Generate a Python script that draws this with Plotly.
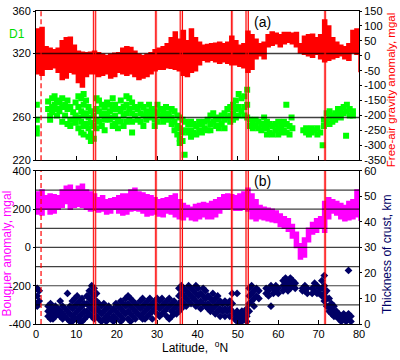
import plotly.graph_objects as go

# ---------------- data ----------------
lat_grid = list(range(0, 81))

freeair_upper = [90, 95, 30, 25, 20, 25, 50, 60, 62, 35,
                 15, 12, 10, 12, 15, 10, 5, 0, 5, 8,
                 10, 25, 30, 28, 15, 5, 0, 5, 10, 20,
                 25, 30, 40, 60, 80, 55, 85, 50, 90, 60,
                 45, 35, 38, 40, 42, 45, 40, 45, 65, 50,
                 35, 40, 82, 70, 55, 40, 45, 70, 80, 75,
                 70, 78, 78, 75, 78, 40, 65, 70, 72, 60,
                 70, 120, 100, 60, 45, 35, 30, 40, 85, 90, 80]
freeair_lower = [-60, -65, -45, -45, -40, -55, -80, -75, -55, -60,
                 -90, -105, -70, -60, -60, -70, -65, -60, -75, -70,
                 -55, -60, -65, -60, -70, -80, -75, -70, -60, -50,
                 -45, -45, -40, -42, -45, -50, -65, -70, -55, -50,
                 -30, -15, -20, -15, -20, -25, -20, -25, -30, -30,
                 -35, -40, -55, -45, -10, 0, -10, 30, 35, 40,
                 30, 40, 45, 40, 30, 10, 5, 0, -5, 5,
                 -10, -20, -15, -10, -5, 0, -10, -15, 10, 5, -55]

bouguer_upper = [290, 300, 270, 280, 275, 270, 300, 320, 325, 300,
                 320, 330, 300, 290, 280, 260, 270, 250, 255, 260,
                 270, 280, 280, 300, 310, 290, 285, 275, 270, 260,
                 250, 255, 260, 270, 280, 250, 230, 220, 210, 225,
                 230, 235, 230, 240, 250, 260, 275, 280, 275, 270,
                 280, 290, 310, 280, 250, 220, 210, 205, 200, 190,
                 175, 160, 150, 120, 80, 20, 50, 100, 130, 150,
                 160, 240, 260, 250, 240, 230, 220, 240, 250, 300, 300]
bouguer_lower = [175, 170, 200, 175, 180, 200, 210, 230, 200, 210,
                 215, 210, 200, 190, 195, 185, 190, 175, 180, 200,
                 180, 170, 175, 190, 195, 190, 180, 165, 170, 175,
                 165, 160, 180, 175, 160, 150, 145, 160, 145, 140,
                 150, 160, 150, 150, 160, 180, 200, 200, 205, 195,
                 195, 200, 190, 150, 140, 150, 145, 140, 135, 130,
                 110, 100, 85, 50, 0, -60, -50, 30, 70, 80,
                 100, 80, 150, 180, 170, 150, 140, 145, 150, 160, 140]

d1_columns = [
    (0.2, [272, 258, 250, 245]), (3.0, [275, 268]), (3.5, [262, 258]),
    (4.0, [278, 270, 265]), (4.6, [280, 272]), (5.2, [276, 268, 262]),
    (5.8, [274, 266]), (6.5, [278, 270, 256]), (7.2, [272, 262]),
    (7.8, [276, 268, 254]), (8.5, [270, 258, 252]), (9.2, [265, 258]),
    (9.8, [274, 262, 255]), (10.5, [280, 270, 260, 250]),
    (11.2, [278, 266, 256, 246]), (11.8, [282, 272, 262, 252, 244]),
    (12.4, [276, 264, 254]), (13.0, [270, 260, 250, 242]),
    (13.6, [266, 255, 245, 238]), (14.3, [262, 252, 240]),
    (15.0, [278, 268, 258, 250]), (15.6, [276, 266, 256]),
    (16.3, [272, 262, 252]), (17.0, [270, 264, 258, 248]),
    (17.6, [274, 262]), (18.3, [272, 266, 258]), (19.0, [278, 268, 260, 252]),
    (19.6, [272, 262, 254]), (20.3, [268, 258, 250]), (21.0, [276, 266, 256]),
    (21.7, [270, 262, 252]), (22.4, [280, 272, 264, 256]),
    (23.1, [278, 268, 258]), (23.8, [274, 264, 256, 246]),
    (24.5, [270, 262]), (25.2, [268, 258]), (25.9, [272, 264, 256]),
    (26.6, [270, 262, 252]), (27.3, [266, 258]), (28.0, [272, 264, 260]),
    (28.7, [268, 262]), (29.4, [266, 258, 252]), (30.1, [272, 264, 256]),
    (30.8, [268, 262]), (31.5, [266, 260, 256]), (32.2, [270, 262]),
    (32.9, [264, 258]), (33.6, [268, 260, 254]), (34.3, [266, 256, 248]),
    (35.0, [262, 252, 244]), (35.6, [260, 250, 240, 236]),
    (36.3, [258, 246, 238]), (36.8, [225]), (37.0, [256, 248]),
    (37.7, [254, 246]), (38.4, [256, 248, 242]), (39.0, [254, 246]),
    (39.7, [252, 244]), (40.4, [256, 248]), (41.1, [254, 246]),
    (41.8, [256, 250]), (42.5, [258, 248]), (43.2, [262, 254, 248]),
    (43.9, [264, 256]), (44.6, [260, 252]), (45.3, [258, 250]),
    (46.0, [262, 254]), (46.7, [264, 258, 250]), (47.4, [268, 260]),
    (48.1, [270, 262, 256]), (48.8, [272, 264, 258]),
    (49.5, [276, 268, 260]), (50.2, [282, 270, 262]), (50.9, [278, 266]),
    (51.6, [280, 270, 262]), (52.3, [286, 272, 260]), (53.0, [258, 252]),
    (53.7, [256, 250]), (54.4, [258, 252]), (55.1, [256, 250]),
    (55.8, [254, 248]), (56.5, [260, 252]), (57.2, [256, 250, 244]),
    (57.9, [254, 246]), (58.6, [252, 244]), (59.3, [254, 248]),
    (60.0, [256, 250, 244]), (60.7, [252, 246]), (61.4, [256, 248]),
    (62.0, [272]), (62.1, [254, 246]), (62.8, [252, 244]), (63.3, [260]),
    (63.5, [250]), (66.2, [248]), (66.9, [250, 246]), (67.6, [248, 244]),
    (68.3, [250, 246]), (69.0, [248]), (69.7, [250, 244]), (70.4, [246]),
    (71.0, [234]), (71.3, [258, 252]), (72.0, [264, 256]),
    (72.7, [266, 260, 254]), (73.4, [262, 256]), (74.1, [264, 258]),
    (74.8, [268, 262]), (75.5, [266, 260]), (76.2, [270, 264]),
    (76.8, [243]), (77.0, [272, 266]), (77.7, [268, 262]), (78.5, [266, 262]),
]

crust_columns = [
    (0.3, [14, 11, 8, 7]), (0.8, [13, 9]), (3.0, [7, 5, 3]), (3.6, [8, 6, 4, 2]),
    (4.2, [6, 4, 2]), (4.8, [7, 5, 3]), (5.4, [6, 4]), (6.0, [9, 5, 3]),
    (6.6, [7, 4, 2]), (7.2, [6, 3]), (7.8, [12, 5, 2]), (8.4, [7, 4, 1]),
    (9.0, [9, 6, 3, 1]), (9.6, [10, 7, 4, 2]), (10.2, [11, 8, 5, 2]),
    (10.8, [9, 6, 3, 1]), (11.4, [10, 7, 4, 1]), (12.0, [8, 5, 2]),
    (12.6, [11, 8, 5, 3]), (13.2, [13, 10, 7, 4]), (13.8, [15, 12, 9, 6, 3]),
    (14.4, [14, 11, 8, 5, 2]), (15.0, [12, 9, 6, 3]), (15.6, [8, 5, 2]),
    (16.2, [7, 4, 1]), (16.8, [8, 5, 2]), (17.4, [6, 3, 1]), (18.0, [7, 4, 2]),
    (18.6, [5, 2]), (19.2, [6, 3, 1]), (19.8, [8, 5, 2]), (20.4, [7, 4]),
    (21.0, [9, 6, 3, 1]), (21.6, [8, 5, 2]), (22.2, [10, 7, 4]),
    (22.8, [11, 8, 5, 2]), (23.4, [10, 7, 4, 1]), (24.0, [9, 6, 3]),
    (24.6, [8, 5, 2]), (25.2, [7, 4]), (25.8, [9, 6, 3]), (26.4, [10, 7, 4, 2]),
    (27.0, [8, 5, 2]), (27.6, [9, 6, 3]), (28.2, [10, 7, 4]), (28.8, [8, 5, 2]),
    (29.4, [9, 6]), (30.0, [10, 7, 4]), (30.6, [9, 6, 3]), (31.2, [10, 7, 4]),
    (31.8, [8, 5]), (32.4, [9, 6, 3]), (33.0, [10, 7, 2]), (33.6, [8, 5, 3]),
    (34.2, [9, 6, 4]), (34.8, [7, 4]), (35.4, [14, 11, 8, 5]),
    (36.0, [15, 12, 9, 6]), (36.6, [14, 11, 8]), (37.2, [13, 10, 7]),
    (37.8, [15, 12, 9]), (38.4, [14, 11, 8]), (39.0, [13, 10]),
    (39.6, [15, 12, 9, 7]), (40.2, [14, 11, 8]), (40.8, [12, 9, 6]),
    (41.4, [14, 11, 8]), (42.0, [13, 10, 7]), (42.6, [11, 8, 6]),
    (43.2, [10, 7, 5]), (43.8, [12, 9, 6]), (44.4, [10, 7, 4]),
    (45.0, [11, 8, 5]), (45.6, [9, 6, 3]), (46.2, [8, 5]), (46.8, [9, 6, 3]),
    (47.4, [8, 5]), (48.0, [9, 6, 3]), (48.6, [12, 8, 5]), (49.2, [4, 2]),
    (49.8, [12, 5, 3, 1]), (50.4, [4, 2, 0.5]), (51.0, [5, 3, 1]),
    (51.6, [4, 2]), (52.2, [6, 3, 1]), (52.8, [14, 11, 8, 5]),
    (53.4, [15, 12, 9]), (54.0, [13, 10, 7]), (54.6, [14, 11]),
    (55.2, [13, 10]), (57.0, [14, 12]), (57.6, [13, 11]), (58.2, [15, 7]),
    (58.8, [14, 12]), (59.4, [15, 13]), (60.0, [14, 12]),
    (61.2, [17, 15, 13]), (61.8, [18, 16, 14]), (62.4, [17, 15, 13]),
    (63.0, [18, 16, 14]), (63.6, [17, 15]), (64.2, [16, 14]),
    (66.0, [14, 13]), (66.6, [15, 13]), (67.2, [14, 12]), (68.4, [14, 12]),
    (69.0, [16, 13]), (69.6, [15, 12]), (70.2, [14, 12]),
    (70.8, [17, 14, 11]), (71.4, [19, 15, 12, 9]), (72.0, [13, 10, 7]),
    (72.6, [10, 7, 5]), (73.2, [8, 6, 4]), (73.8, [7, 5, 3]), (74.4, [5, 3]),
    (75.0, [4, 2]), (75.6, [3, 1]), (76.2, [4, 2]), (76.8, [3, 1]),
    (77.4, [21, 4, 2]), (78.0, [3, 1]),
]

boundary_double = [14.5, 36.0, 52.3]
boundary_single = [29.7, 48.5, 71.6]
dashed_boundary = 1.25

x_ticks = [0, 10, 20, 30, 40, 50, 60, 70, 80]
d1_ticks = [220, 260, 320, 360]
freeair_ticks = [-350, -300, -250, -200, -150, -100, -50, 0, 50, 100, 150]
bouguer_ticks = [-400, -200, 0, 200, 400]
bouguer_grid = [-300, -200, -100, 0, 100, 200, 300]
crust_ticks = [0, 10, 20, 30, 40, 50, 60]

# flatten scatter columns
d1_lat = [c[0] for c in d1_columns for _ in c[1]]
d1_val = [v for c in d1_columns for v in c[1]]
crust_lat = [c[0] for c in crust_columns for _ in c[1]]
crust_val = [v for c in crust_columns for v in c[1]]


def hyphen_labels(vals):
    return [str(v) for v in vals]


RED = "#FF0000"
GREEN = "#00FF00"
MAGENTA = "#FF00FF"
NAVY = "#000066"
FONT = "Liberation Sans, Arial, sans-serif"

fig = go.Figure()

# ---- top panel ----
fig.add_trace(go.Scatter(x=d1_lat, y=d1_val, mode="markers", xaxis="x2", yaxis="y3",
                         marker=dict(symbol="square", size=6, color=GREEN, line=dict(width=0))))
fig.add_trace(go.Scatter(x=lat_grid, y=freeair_lower, mode="lines", xaxis="x2", yaxis="y4",
                         line=dict(width=1.5, color=RED, shape="hv")))
fig.add_trace(go.Scatter(x=lat_grid, y=freeair_upper, mode="lines", xaxis="x2", yaxis="y4",
                         fill="tonexty", fillcolor=RED,
                         line=dict(width=1.5, color=RED, shape="hv")))

# ---- bottom panel ----
fig.add_trace(go.Scatter(x=lat_grid, y=bouguer_lower, mode="lines", xaxis="x", yaxis="y",
                         line=dict(width=1.5, color=MAGENTA, shape="hv")))
fig.add_trace(go.Scatter(x=lat_grid, y=bouguer_upper, mode="lines", xaxis="x", yaxis="y",
                         fill="tonexty", fillcolor=MAGENTA,
                         line=dict(width=1.5, color=MAGENTA, shape="hv")))
fig.add_trace(go.Scatter(x=crust_lat, y=crust_val, mode="markers", xaxis="x", yaxis="y2",
                         marker=dict(symbol="diamond", size=6, color=NAVY, line=dict(width=0))))

shapes = []
grid_col = "rgba(0,0,0,0.75)"
for v in d1_ticks[1:-1]:
    shapes.append(dict(type="line", xref="x2 domain", x0=0, x1=1, yref="y3", y0=v, y1=v,
                       line=dict(color=grid_col, width=1.5), layer="above"))
for v in bouguer_grid:
    shapes.append(dict(type="line", xref="x domain", x0=0, x1=1, yref="y", y0=v, y1=v,
                       line=dict(color=grid_col, width=1.2), layer="above"))

for xr, yr in (("x2", "y3 domain"), ("x", "y domain")):
    for b in boundary_double + boundary_single:
        shapes.append(dict(type="rect", xref=xr, yref=yr, x0=b - 0.35, x1=b + 0.35, y0=0, y1=1,
                           fillcolor="rgba(255,0,0,0.28)", line=dict(width=0), layer="above"))
    for b in boundary_double:
        for off in (-0.3, 0.3):
            shapes.append(dict(type="line", xref=xr, yref=yr, x0=b + off, x1=b + off, y0=0, y1=1,
                               line=dict(color=RED, width=1), layer="above"))
    for b in boundary_single:
        shapes.append(dict(type="line", xref=xr, yref=yr, x0=b, x1=b, y0=0, y1=1,
                           line=dict(color=RED, width=1.3), layer="above"))
    shapes.append(dict(type="line", xref=xr, yref=yr, x0=dashed_boundary, x1=dashed_boundary,
                       y0=0, y1=1, line=dict(color=RED, width=1.2, dash="5px,3px"), layer="above"))

annotations = [
    dict(text="Free-air gravity anomaly, mgal", x=1.098, y=0.746, textangle=-90,
         font=dict(color=RED, size=11.5)),
    dict(text="Thickness of crust, km", x=1.085, y=0.222, textangle=-90,
         font=dict(color=NAVY, size=12)),
    dict(text="Bouguer anomaly, mgal", x=-0.090, y=0.225, textangle=-90,
         font=dict(color=MAGENTA, size=12)),
    dict(text="D1", x=-0.058, y=0.925, font=dict(color="#00DD00", size=12)),
    dict(text="(a)", x=0.70, y=0.966, font=dict(color="black", size=14)),
    dict(text="(b)", x=0.70, y=0.458, font=dict(color="black", size=14)),
    dict(text="Latitude,  <sup>o</sup>N", x=0.492, y=-0.072, font=dict(color="black", size=12)),
]
for a in annotations:
    a.update(xref="paper", yref="paper", showarrow=False, xanchor="center", yanchor="middle")

axis_common = dict(showline=True, linecolor="black", linewidth=1, showgrid=False,
                   zeroline=False, tickcolor="black", tickfont=dict(size=11, color="black"))

fig.update_layout(
    width=400, height=360,
    margin=dict(l=36, r=41, t=5, b=36),
    paper_bgcolor="white", plot_bgcolor="white",
    showlegend=False,
    font=dict(family=FONT, size=11, color="black"),
    xaxis=dict(domain=[0, 1], anchor="y", range=[0, 80], tickvals=x_ticks,
               ticks="inside", ticklen=4, mirror=True, **axis_common),
    xaxis2=dict(domain=[0, 1], anchor="y3", range=[0, 80], tickvals=x_ticks,
                showticklabels=False, ticks="inside", ticklen=4, mirror=True, **axis_common),
    yaxis=dict(domain=[0, 0.489], anchor="x", range=[-400, 400], tickvals=bouguer_ticks,
               ticktext=hyphen_labels(bouguer_ticks),
               ticks="outside", ticklen=2, mirror=True, **axis_common),
    yaxis2=dict(overlaying="y", side="right", anchor="x", range=[0, 60], tickvals=crust_ticks,
                ticks="outside", ticklen=2, **axis_common),
    yaxis3=dict(domain=[0.5235, 1], anchor="x2", range=[220, 360], tickvals=d1_ticks,
                ticks="outside", ticklen=2, mirror=True, **axis_common),
    yaxis4=dict(overlaying="y3", side="right", anchor="x2", range=[-350, 150],
                tickvals=freeair_ticks, ticktext=hyphen_labels(freeair_ticks),
                ticks="outside", ticklen=2, **axis_common),
    shapes=shapes,
    annotations=annotations,
)

fig.write_html("out.html", config={"displayModeBar": False},
               post_script="document.body.style.margin='0';")
